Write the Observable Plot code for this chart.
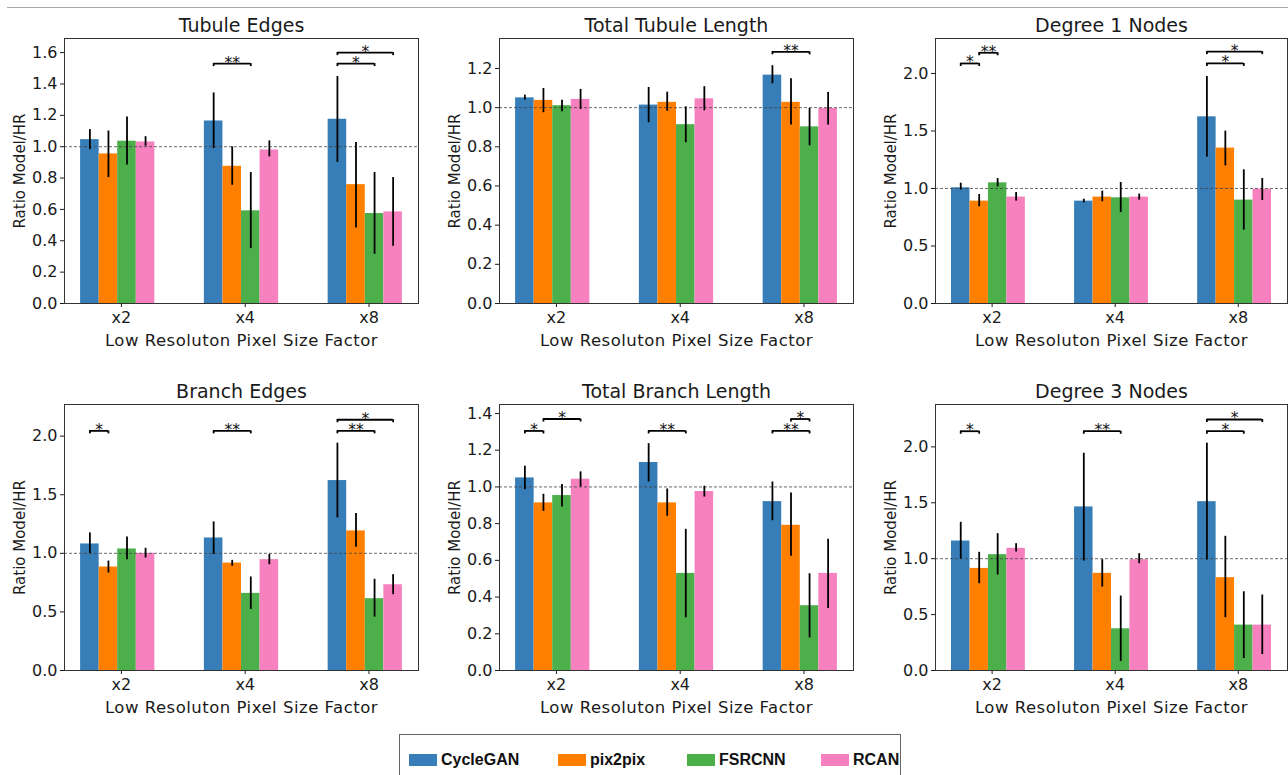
<!DOCTYPE html>
<html><head><meta charset="utf-8">
<script src="https://cdn.jsdelivr.net/npm/d3@7"></script>
<script src="https://cdn.jsdelivr.net/npm/@observablehq/plot@0.6"></script>
<style>
body{margin:0;background:#fff;width:1288px;height:775px;overflow:hidden;position:relative;font-family:"DejaVu Sans";}
.panel{position:absolute;}
#topline{position:absolute;left:7px;top:7px;width:1281px;height:0;border-top:1.5px solid #a8a8a8;}
#legend{position:absolute;left:399px;top:734px;width:502px;height:60px;border:1.3px solid #666;box-sizing:border-box;}
.item{position:absolute;top:16px;display:flex;align-items:center;gap:4px;font-family:"Liberation Sans";font-weight:bold;font-size:16px;color:#111;}
.sw{width:28px;height:12px;}
</style></head>
<body>
<div id="topline"></div>
<div id="root"></div>
<div id="legend"></div>
<script>
const models = ["CycleGAN", "pix2pix", "FSRCNN", "RCAN"];
const colors = ["#377eb8", "#ff7f00", "#4daf4a", "#f781bf"];
const factors = ["x2", "x4", "x8"];
const yLabel = "Ratio Model/HR";
const xLabel = "Low Resoluton Pixel Size Factor";

// values per factor [x2, x4, x8], each [CycleGAN, pix2pix, FSRCNN, RCAN]
const tubuleEdgesMean = [[1.045, 0.954, 1.035, 1.03], [1.164, 0.875, 0.591, 0.979], [1.175, 0.758, 0.574, 0.584]];
const tubuleEdgesLo   = [[0.981, 0.803, 0.884, 1.003], [0.988, 0.754, 0.35, 0.935], [0.90, 0.482, 0.314, 0.365]];
const tubuleEdgesHi   = [[1.109, 1.10, 1.19, 1.064], [1.343, 0.999, 0.835, 1.037], [1.447, 1.026, 0.835, 0.803]];
const tubuleEdgesSig  = [[1, 0, 2, 1.53, "**"], [2, 0, 2, 1.53, "*"], [2, 0, 3, 1.60, "*"]];
const tubuleEdgesTicks = [0, 0.2, 0.4, 0.6, 0.8, 1.0, 1.2, 1.4, 1.6];

const tubuleLengthMean = [[1.05, 1.037, 1.01, 1.042], [1.013, 1.027, 0.913, 1.045], [1.166, 1.027, 0.902, 0.996]];
const tubuleLengthLo   = [[1.038, 0.974, 0.979, 0.991], [0.923, 0.982, 0.821, 0.984], [1.122, 0.911, 0.805, 0.911]];
const tubuleLengthHi   = [[1.064, 1.098, 1.038, 1.093], [1.103, 1.079, 1.004, 1.107], [1.214, 1.147, 0.996, 1.078]];
const tubuleLengthSig  = [[2, 0, 2, 1.285, "**"]];
const tubuleLengthTicks = [0, 0.2, 0.4, 0.6, 0.8, 1.0, 1.2];

const degree1Mean = [[1.006, 0.89, 1.049, 0.925], [0.89, 0.925, 0.919, 0.925], [1.623, 1.351, 0.899, 0.994]];
const degree1Lo   = [[0.986, 0.841, 1.014, 0.89], [0.875, 0.884, 0.791, 0.899], [1.272, 1.197, 0.638, 0.896]];
const degree1Hi   = [[1.046, 0.948, 1.087, 0.965], [0.907, 0.977, 1.052, 0.951], [1.974, 1.499, 1.162, 1.087]];
const degree1Sig  = [[0, 0, 1, 2.087, "*"], [0, 1, 2, 2.18, "**"], [2, 0, 2, 2.087, "*"], [2, 0, 3, 2.19, "*"]];
const halfTicks = [0, 0.5, 1.0, 1.5, 2.0];

const branchEdgesMean = [[1.08, 0.883, 1.037, 1.0], [1.131, 0.917, 0.658, 0.946], [1.621, 1.191, 0.613, 0.732]];
const branchEdgesLo   = [[0.997, 0.832, 0.946, 0.96], [0.991, 0.889, 0.521, 0.903], [1.302, 1.051, 0.456, 0.647]];
const branchEdgesHi   = [[1.174, 0.934, 1.14, 1.043], [1.268, 0.94, 0.798, 0.991], [1.94, 1.339, 0.778, 0.818]];
const branchEdgesSig  = [[0, 0, 1, 2.045, "*"], [1, 0, 2, 2.045, "**"], [2, 0, 2, 2.045, "**"], [2, 0, 3, 2.14, "*"]];

const branchLengthMean = [[1.049, 0.913, 0.953, 1.042], [1.133, 0.913, 0.529, 0.975], [0.92, 0.791, 0.353, 0.529]];
const branchLengthLo   = [[0.985, 0.867, 0.891, 1.0], [1.027, 0.84, 0.287, 0.945], [0.816, 0.622, 0.178, 0.338]];
const branchLengthHi   = [[1.113, 0.96, 1.013, 1.082], [1.236, 0.989, 0.769, 1.004], [1.027, 0.967, 0.527, 0.715]];
const branchLengthSig  = [[0, 0, 1, 1.305, "*"], [0, 1, 3, 1.37, "*"], [1, 0, 2, 1.305, "**"], [2, 0, 2, 1.305, "**"], [2, 1, 2, 1.37, "*"]];
const branchLengthTicks = [0, 0.2, 0.4, 0.6, 0.8, 1.0, 1.2, 1.4];

const degree3Mean = [[1.158, 0.913, 1.036, 1.093], [1.463, 0.869, 0.373, 0.991], [1.51, 0.83, 0.406, 0.406]];
const degree3Lo   = [[0.997, 0.776, 0.854, 1.06], [0.979, 0.746, 0.081, 0.955], [0.988, 0.472, 0.107, 0.143]];
const degree3Hi   = [[1.325, 1.057, 1.224, 1.134], [1.943, 0.991, 0.666, 1.045], [2.033, 1.2, 0.704, 0.675]];
const degree3Sig  = [[0, 0, 1, 2.14, "*"], [1, 0, 2, 2.14, "**"], [2, 0, 2, 2.14, "*"], [2, 0, 3, 2.245, "*"]];

const panels = [
  {title: "Tubule Edges", mean: tubuleEdgesMean, lo: tubuleEdgesLo, hi: tubuleEdgesHi, sig: tubuleEdgesSig, yMax: 1.69, ticks: tubuleEdgesTicks, left: 0, top: 0, ml: 64, mr: 12, mb: 47},
  {title: "Total Tubule Length", mean: tubuleLengthMean, lo: tubuleLengthLo, hi: tubuleLengthHi, sig: tubuleLengthSig, yMax: 1.353, ticks: tubuleLengthTicks, left: 430, top: 0, ml: 69, mr: 7, mb: 47},
  {title: "Degree 1 Nodes", mean: degree1Mean, lo: degree1Lo, hi: degree1Hi, sig: degree1Sig, yMax: 2.304, ticks: halfTicks, left: 858, top: 0, ml: 77, mr: 1, mb: 47},
  {title: "Branch Edges", mean: branchEdgesMean, lo: branchEdgesLo, hi: branchEdgesHi, sig: branchEdgesSig, yMax: 2.27, ticks: halfTicks, left: 0, top: 366, ml: 64, mr: 12, mb: 46},
  {title: "Total Branch Length", mean: branchLengthMean, lo: branchLengthLo, hi: branchLengthHi, sig: branchLengthSig, yMax: 1.449, ticks: branchLengthTicks, left: 430, top: 366, ml: 69, mr: 7, mb: 46},
  {title: "Degree 3 Nodes", mean: degree3Mean, lo: degree3Lo, hi: degree3Hi, sig: degree3Sig, yMax: 2.379, ticks: halfTicks, left: 858, top: 366, ml: 77, mr: 1, mb: 46}
];

const bw = 0.15;
const root = document.getElementById("root");

function makePanel(p) {
  const W = 430, H = 350, mt = 38;
  const bars = [];
  factors.forEach((f, g) => models.forEach((m, i) => bars.push({g, i, model: m, v: p.mean[g][i], lo: p.lo[g][i], hi: p.hi[g][i]})));
  const cx = d => d.g + (d.i - 1.5) * bw;
  const sigs = p.sig.map(([g, a, b, h, label]) => ({x1: g + (a - 1.5) * bw, x2: g + (b - 1.5) * bw, h, label}));
  const innerH = H - mt - p.mb;
  const tk = p.yMax * 3 / innerH;
  const ends = sigs.flatMap(s => [{x: s.x1, y1: s.h - tk, y2: s.h}, {x: s.x2, y1: s.h - tk, y2: s.h}]);
  const svg = Plot.plot({
    width: W, height: H, marginTop: mt, marginBottom: p.mb, marginLeft: p.ml, marginRight: p.mr,
    style: {fontFamily: "DejaVu Sans", fontSize: "16px", color: "#1a1a1a", background: "transparent", overflow: "visible"},
    x: {domain: [-0.43, 2.43], axis: null},
    y: {domain: [0, p.yMax], axis: null},
    color: {domain: models, range: colors},
    marks: [
      Plot.rect(bars, {x1: d => cx(d) - bw / 2, x2: d => cx(d) + bw / 2, y1: 0, y2: "v", fill: "model"}),
      Plot.ruleY([1], {stroke: "#444", strokeWidth: 0.8, strokeDasharray: "3,2"}),
      Plot.ruleX(bars, {x: cx, y1: "lo", y2: "hi", stroke: "#000", strokeWidth: 1.8}),
      Plot.ruleY(sigs, {y: "h", x1: "x1", x2: "x2", stroke: "#000", strokeWidth: 1.8}),
      Plot.ruleX(ends, {x: "x", y1: "y1", y2: "y2", stroke: "#000", strokeWidth: 1.8}),
      Plot.text(sigs, {x: d => (d.x1 + d.x2) / 2, y: "h", text: "label", lineAnchor: "bottom", dy: 4, fontSize: 15.5, fill: "#111"}),
      Plot.axisY(p.ticks, {tickSize: 4, tickPadding: 3, tickFormat: d3.format(".1f"), label: null}),
      Plot.axisX([0.03, 1.03, 2.03], {tickSize: 4, tickPadding: 4, tickFormat: d => factors[Math.round(d)], label: null}),
      Plot.frame({stroke: "#333", strokeWidth: 1}),
      Plot.text([p.title], {frameAnchor: "top", lineAnchor: "middle", textAnchor: "middle", dy: -13, fontSize: 19}),
      Plot.text([yLabel], {frameAnchor: "left", lineAnchor: "middle", textAnchor: "middle", rotate: -90, dx: -44, fontSize: 15}),
      Plot.text([xLabel], {frameAnchor: "bottom", lineAnchor: "middle", textAnchor: "middle", dy: 37, fontSize: 16.5})
    ]
  });
  d3.select(svg).selectAll("text").filter(function() { return this.textContent === xLabel; }).attr("letter-spacing", "0.5px");
  const div = document.createElement("div");
  div.className = "panel";
  div.style.left = p.left + "px";
  div.style.top = p.top + "px";
  div.appendChild(svg);
  root.appendChild(div);
}
panels.forEach(makePanel);

const legend = document.getElementById("legend");
const legendLeft = [9, 158, 287, 421];
models.forEach((m, i) => {
  const it = document.createElement("div");
  it.className = "item";
  it.style.left = legendLeft[i] + "px";
  it.innerHTML = `<div class="sw" style="background:${colors[i]}"></div><span>${m}</span>`;
  legend.appendChild(it);
});
</script>
</body></html>
